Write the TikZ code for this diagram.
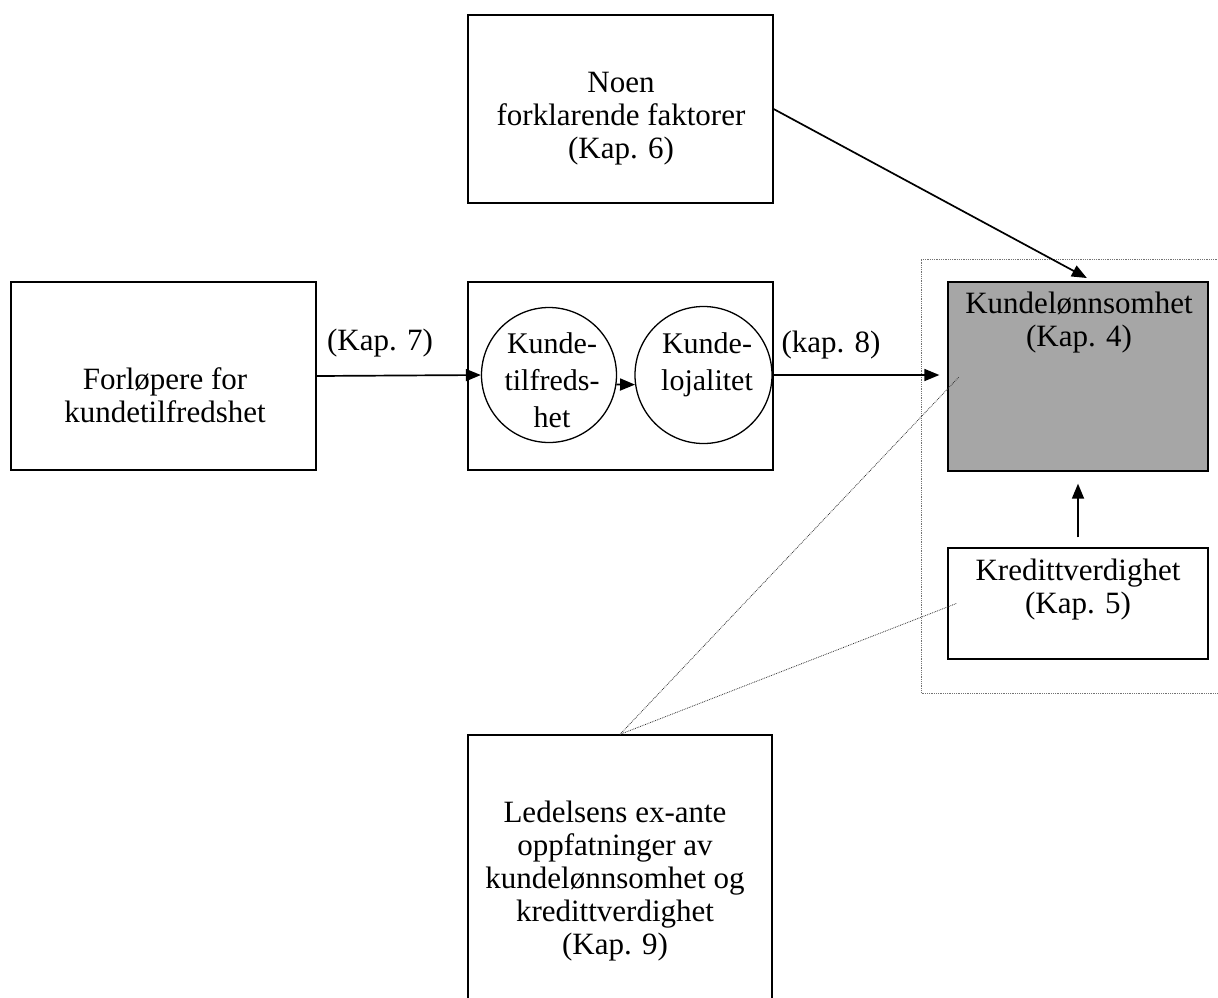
\documentclass[tikz,border=0pt]{standalone}
\usepackage{fontspec}
\setmainfont{Liberation Serif}
\usetikzlibrary{arrows.meta,positioning}

\tikzset{
  box/.style={draw, line width=1.3pt, inner sep=0pt},
  txt/.style={align=center, inner sep=0pt, anchor=north, font=\fontsize{31}{33}\selectfont},
  lbl/.style={inner sep=0pt, anchor=base, font=\fontsize{31}{33}\selectfont},
  arr/.style={-{Triangle[length=15pt,width=12pt]}, line width=1.7pt},
  guide/.style={densely dotted, line width=0.8pt, black!80},
}

\begin{document}
\begin{tikzpicture}[x=1pt, y=-1pt]
\useasboundingbox (0,0) rectangle (1218,997);
\clip (0,0) rectangle (1218,997);

% ramme rundt resultatboksene
\draw[guide, black!55] (1219,259) -| (921,693) -- (1219,693);

% bokser
\node[box, minimum width=305, minimum height=188] (faktorer) at (620.5,109) {};
\node[txt] (faktorertxt) at (621,72) {Noen\\forklarende faktorer\\(Kap. 6)};

\node[box, minimum width=305, minimum height=188] (forlop) at (163.5,376) {};
\node[txt] (forloptxt) at (165,367) {Forløpere for\\kundetilfredshet};

\node[box, minimum width=305, minimum height=188] (midt) at (620.5,376) {};
\node[circle, draw, line width=1.3pt, minimum size=135, inner sep=0pt] (tilfreds) at (549,375) {};
\node[circle, draw, line width=1.3pt, minimum size=137, inner sep=0pt] (lojal) at (703.5,375) {};
\node[txt, font=\fontsize{30}{37}\selectfont] (tilfredstxt) at (552,332) {Kunde-\\tilfreds-\\het};
\node[txt, font=\fontsize{30}{37}\selectfont] (lojaltxt) at (707,332) {Kunde-\\lojalitet};

\node[box, fill=black!35, minimum width=260, minimum height=189] (lonn) at (1078,376.5) {};
\node[txt] (lonntxt) at (1079,292) {Kundelønnsomhet\\(Kap. 4)};

\node[box, minimum width=260, minimum height=111] (kreditt) at (1078,603.5) {};
\node[txt] (kreditttxt) at (1078,559) {Kredittverdighet\\(Kap. 5)};

\node[box, minimum width=304, minimum height=290] (ledelse) at (620,880) {};
\node[txt] (ledelsetxt) at (615,801) {Ledelsens ex-ante\\oppfatninger av\\kundelønnsomhet og\\kredittverdighet\\(Kap. 9)};

% piler
\draw[arr] (forlop.east) -- (tilfreds.west);
\node[lbl] (kap7) at (380,350) {(Kap. 7)};
\draw[arr] (tilfreds.-8) -- (lojal.-172);
\draw[arr, shorten >=8pt] (lojal.east) -- (lojal.east -| lonn.west);
\node[lbl] (kap8) at (831,352) {(kap. 8)};
\draw[arr, shorten >=7pt] (faktorer.east) -- ([xshift=15pt]lonn.north);
\draw[arr, shorten <=10pt, shorten >=12pt] (kreditt.north) -- (lonn.south);

% stiplede hjelpelinjer
\draw[guide] (ledelse.north) -- ([xshift=12pt]lonn.west);
\draw[guide] (ledelse.north) -- ([xshift=9pt]kreditt.west);
\end{tikzpicture}
\end{document}
